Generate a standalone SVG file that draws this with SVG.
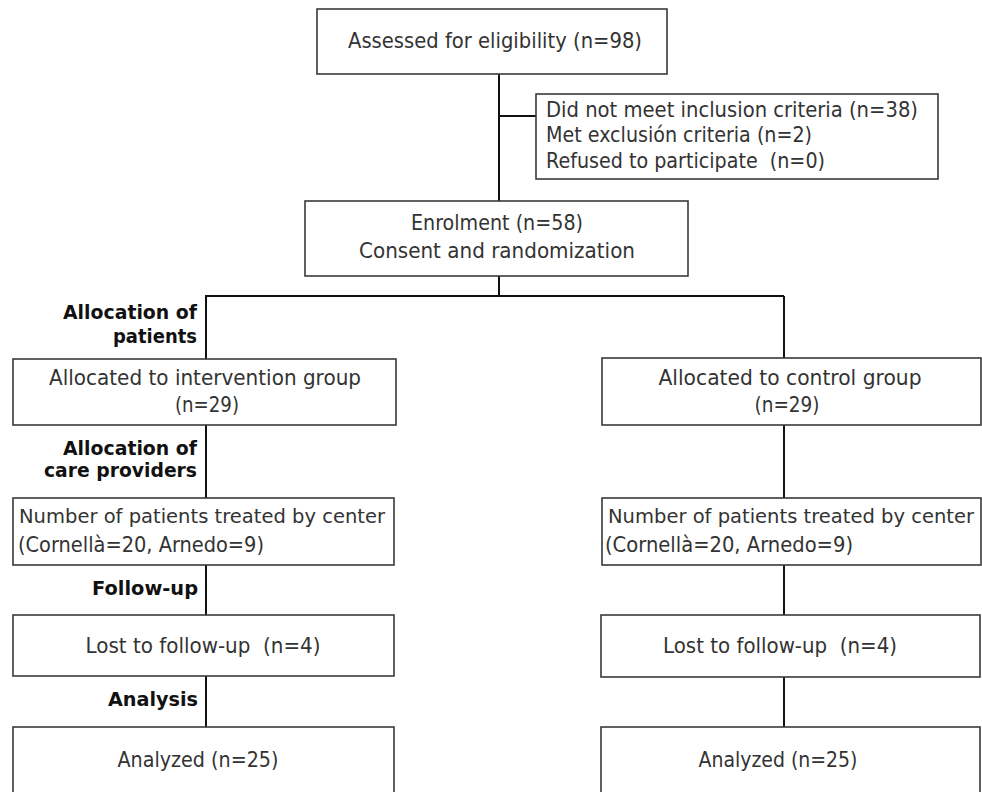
<svg xmlns="http://www.w3.org/2000/svg" width="982" height="792" viewBox="0 0 982 792" xml:space="preserve">
<style>
.box{fill:#fff;stroke:#3a3a3a;stroke-width:1.6}
.t{font-family:"DejaVu Sans",Verdana,sans-serif;font-size:21px;fill:#333;white-space:pre}
.c{text-anchor:middle}
.n{font-size:19.5px}
.lbl{font-family:"DejaVu Sans",Verdana,sans-serif;font-size:20px;font-weight:bold;fill:#111;text-anchor:end}
.con{stroke:#111;stroke-width:2;fill:none}
</style>
<rect x="0" y="0" width="982" height="792" fill="#fff"/>
<g id="connectors">
<path class="con" d="M499,74 V201 M499,116 H536 M499,276 V296 M205,296 H784 M206,296 V359 M784,296 V358 M206,425 V498 M784,425 V498 M206,565 V615 M784,565 V615 M206,676 V727 M784,677 V727"/>
</g>
<g id="labels">
<text class="lbl" x="197" y="319" textLength="134" lengthAdjust="spacingAndGlyphs">Allocation of</text>
<text class="lbl" x="197" y="343" textLength="84" lengthAdjust="spacingAndGlyphs">patients</text>
<text class="lbl" x="197" y="455" textLength="134" lengthAdjust="spacingAndGlyphs">Allocation of</text>
<text class="lbl" x="197" y="477" textLength="153" lengthAdjust="spacingAndGlyphs">care providers</text>
<text class="lbl" x="198" y="595" textLength="106" lengthAdjust="spacingAndGlyphs">Follow-up</text>
<text class="lbl" x="198" y="706" textLength="90" lengthAdjust="spacingAndGlyphs">Analysis</text>
</g>
<g id="assessed">
<rect class="box" x="317" y="9" width="350" height="65"/>
<text class="t c" x="495" y="48" textLength="294" lengthAdjust="spacingAndGlyphs">Assessed for eligibility (n=98)</text>
</g>
<g id="excluded">
<rect class="box" x="536" y="94" width="402" height="85"/>
<text class="t" x="546" y="117" textLength="372" lengthAdjust="spacingAndGlyphs">Did not meet inclusion criteria (n=38)</text>
<text class="t" x="546" y="142" textLength="266" lengthAdjust="spacingAndGlyphs">Met exclusión criteria (n=2)</text>
<text class="t" x="546" y="168" textLength="279" lengthAdjust="spacingAndGlyphs">Refused to participate  (n=0)</text>
</g>
<g id="enrolment">
<rect class="box" x="305" y="201" width="383" height="75"/>
<text class="t c" x="497" y="230" textLength="172" lengthAdjust="spacingAndGlyphs">Enrolment (n=58)</text>
<text class="t c" x="497" y="258" textLength="276" lengthAdjust="spacingAndGlyphs">Consent and randomization</text>
</g>
<g id="intervention">
<rect class="box" x="13" y="359" width="383" height="66"/>
<text class="t c" x="205" y="385" textLength="312" lengthAdjust="spacingAndGlyphs">Allocated to intervention group</text>
<text class="t c" x="207" y="412" textLength="64" lengthAdjust="spacingAndGlyphs">(n=29)</text>
</g>
<g id="control">
<rect class="box" x="602" y="358" width="379" height="67"/>
<text class="t c" x="790" y="385" textLength="263" lengthAdjust="spacingAndGlyphs">Allocated to control group</text>
<text class="t c" x="787" y="412" textLength="65" lengthAdjust="spacingAndGlyphs">(n=29)</text>
</g>
<g id="centers-left">
<rect class="box" x="13" y="498" width="381" height="67"/>
<text class="t n" x="19" y="523" textLength="366" lengthAdjust="spacingAndGlyphs">Number of patients treated by center</text>
<text class="t" x="18" y="552" textLength="246" lengthAdjust="spacingAndGlyphs">(Cornellà=20, Arnedo=9)</text>
</g>
<g id="centers-right">
<rect class="box" x="602" y="498" width="379" height="67"/>
<text class="t n" x="608" y="523" textLength="366" lengthAdjust="spacingAndGlyphs">Number of patients treated by center</text>
<text class="t" x="605" y="552" textLength="248" lengthAdjust="spacingAndGlyphs">(Cornellà=20, Arnedo=9)</text>
</g>
<g id="lost-left">
<rect class="box" x="13" y="615" width="381" height="61"/>
<text class="t c" x="203" y="653" textLength="235" lengthAdjust="spacingAndGlyphs">Lost to follow-up  (n=4)</text>
</g>
<g id="lost-right">
<rect class="box" x="601" y="615" width="379" height="62"/>
<text class="t c" x="780" y="653" textLength="234" lengthAdjust="spacingAndGlyphs">Lost to follow-up  (n=4)</text>
</g>
<g id="analyzed-left">
<rect class="box" x="13" y="727" width="381" height="80"/>
<text class="t c" x="198" y="767" textLength="161" lengthAdjust="spacingAndGlyphs">Analyzed (n=25)</text>
</g>
<g id="analyzed-right">
<rect class="box" x="601" y="727" width="379" height="80"/>
<text class="t c" x="778" y="767" textLength="159" lengthAdjust="spacingAndGlyphs">Analyzed (n=25)</text>
</g>
</svg>
